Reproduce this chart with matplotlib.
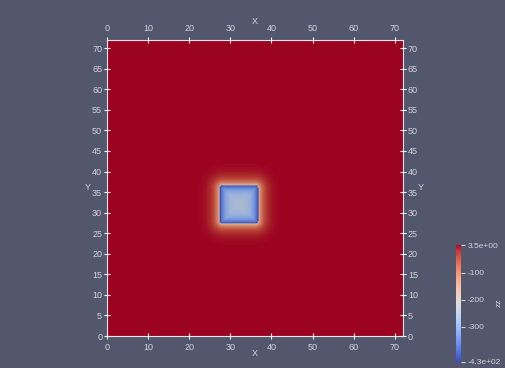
import numpy as np
import matplotlib
matplotlib.use("Agg")
from matplotlib import pyplot as plt
from matplotlib import colors as mcolors
from matplotlib import colorbar as mcolorbar

# domain and scalar range
domain = (0.0, 72.0)
vmin, vmax = -430.0, 3.5
tick_values = [0, 10, 20, 30, 40, 50, 60, 70]
y_tick_values = [0, 5, 10, 15, 20, 25, 30, 35, 40, 45, 50, 55, 60, 65, 70]
cbar_ticks = [3.5, -100, -200, -300, -430]
cbar_labels = ["3.5e+00", "-100", "-200", "-300", "-4.3e+02"]
field_name = "zz"

# block sitting in the middle of the field
block_center = (32.1, 32.0)
block_half = 4.7
block_corner = 0.8
edge_in_value = -425.0
core_value = -240.0
edge_out_value = -175.0
halo_decay = 1.1
core_decay = 1.4

BG = "#52576e"
FG = "#d2d3da"

# sample the field on a regular grid
n = 289
xs = np.linspace(domain[0], domain[1], n)
X, Y = np.meshgrid(xs, xs)
qx = np.abs(X - block_center[0]) - (block_half - block_corner)
qy = np.abs(Y - block_center[1]) - (block_half - block_corner)
outer = np.hypot(np.maximum(qx, 0), np.maximum(qy, 0))
dist = outer + np.minimum(np.maximum(qx, qy), 0) - block_corner

field = np.where(
    dist > 0,
    vmax + (edge_out_value - vmax) * np.exp(-dist / halo_decay),
    core_value + (edge_in_value - core_value) * np.exp(dist / core_decay),
)

cmap = plt.get_cmap("coolwarm")
norm = mcolors.Normalize(vmin=vmin, vmax=vmax)
rgb = cmap(norm(field))[..., :3] * 0.87  # surface lighting

fig = plt.figure(figsize=(5.05, 3.68), dpi=100, facecolor=BG)
W, H = 505.0, 368.0

ax = fig.add_axes([107 / W, 1 - 336 / H, 296 / W, 296 / H])
ax.set_facecolor(BG)
ax.imshow(rgb, origin="lower", extent=[domain[0], domain[1], domain[0], domain[1]],
          interpolation="bilinear", aspect="auto")
ax.set_xlim(domain)
ax.set_ylim(domain)

for side in ax.spines.values():
    side.set_color("#e6e6ea")
    side.set_linewidth(0.8)

ax.set_xticks(tick_values)
ax.set_yticks(y_tick_values)
ax.tick_params(axis="both", which="both", direction="inout", length=5, width=0.8,
               color="white", labelcolor=FG, labelsize=6.5,
               top=True, right=True, labeltop=True, labelright=True)
ax.tick_params(axis="x", pad=2.5)
ax.tick_params(axis="y", pad=1)
for lab in ax.get_xticklabels() + ax.get_yticklabels():
    lab.set_family("Liberation Sans")

# axis titles on every side
title_kw = dict(color=FG, fontsize=6.5, family="Liberation Sans", ha="center", va="center")
fig.text(255 / W, 1 - 22 / H, "X", **title_kw)
fig.text(255 / W, 1 - 353 / H, "X", **title_kw)
fig.text(88 / W, 1 - 187 / H, "Y", **title_kw)
fig.text(421 / W, 1 - 187 / H, "Y", **title_kw)

# scalar bar
cax = fig.add_axes([456 / W, 1 - 362 / H, 5 / W, 117 / H])
cb = mcolorbar.ColorbarBase(cax, cmap=cmap, norm=norm, orientation="vertical")
cb.outline.set_visible(False)
cb.set_ticks(cbar_ticks)
cb.set_ticklabels(cbar_labels)
cax.tick_params(length=3, width=0.8, color=FG, labelcolor=FG, labelsize=6, pad=1.5)
for lab in cax.get_yticklabels():
    lab.set_family("Liberation Sans")
fig.text(499 / W, 1 - 303 / H, field_name, color=FG, fontsize=6,
         family="Liberation Sans", rotation=90, ha="center", va="center")

fig.savefig("out.png", dpi=100, facecolor=BG)
